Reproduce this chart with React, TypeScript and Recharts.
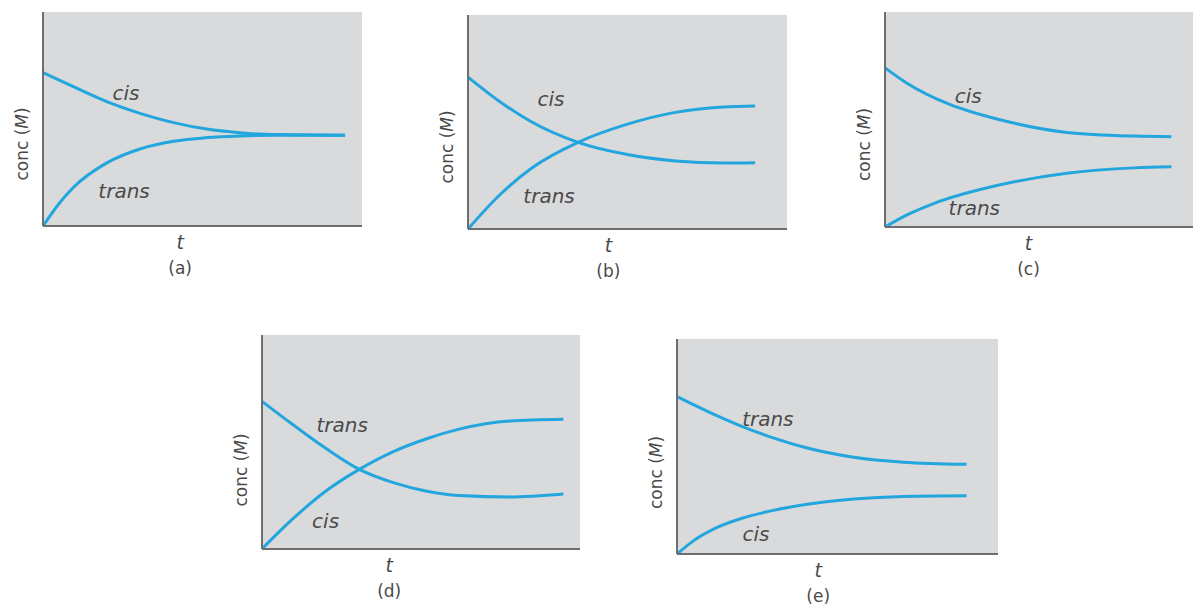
// Cis/trans concentration vs time -- five small panels, recharts.

import { CartesianGrid, Line, LineChart, ReferenceDot, XAxis, YAxis } from "recharts";

type Pt = [number, number];

// (t, conc), both axes on a 0..100 scale
const aCis: Pt[] = [[0, 71.7], [9.5, 65.1], [20, 58.1], [30.4, 52.6], [40.9, 48.3], [51.3, 45.3], [61.7, 43.6], [72.2, 42.7], [94.7, 42.4]];
const aTrans: Pt[] = [[0, 0], [5.3, 11], [9.5, 18], [20, 29.5], [30.4, 36], [40.9, 39.6], [51.3, 41.3], [61.7, 42.1], [72.2, 42.4], [94.7, 42.4]];

const bCis: Pt[] = [[0, 71], [10, 59.5], [20, 50], [34.5, 40.5], [50, 34.8], [65, 31.8], [80, 30.8], [90, 31]];
const bTrans: Pt[] = [[0, 0], [10, 16], [20, 28.5], [34.5, 40.5], [50, 49], [65, 54.5], [80, 57], [90, 57.5]];

const cCis: Pt[] = [[0, 74], [7, 67], [21, 57], [37, 50], [59, 44], [81, 42.3], [93, 42]];
const cTrans: Pt[] = [[0, 0], [7, 5.5], [16, 11], [37, 19.5], [59, 25], [81, 27.5], [93, 28]];

const dTrans: Pt[] = [[0, 69], [10, 57.8], [20.3, 46.8], [30.6, 37.2], [41.3, 31], [51.8, 27], [62, 25], [78, 24.3], [94.8, 25.7]];
const dCis: Pt[] = [[0, 0], [10, 14.5], [20, 27], [30.6, 37.2], [41.3, 45.5], [51.8, 51.5], [62, 56], [78, 59.8], [94.8, 60.6]];

const eTrans: Pt[] = [[0, 73.2], [10, 66], [20, 59.5], [30, 54], [40, 49.5], [55, 45], [70.5, 42.7], [90.2, 41.7]];
const eCis: Pt[] = [[0, 0], [5, 6], [12, 12], [20, 16.5], [30, 20.3], [40, 23], [55, 25.6], [70.5, 26.8], [90.2, 27.1]];

const panelNames = ["(a)", "(b)", "(c)", "(d)", "(e)"];

const BLUE = "#22a6dd";
const AXIS = "#6e6e6e";
const TEXT = "#4a4a4a";
const BG = "#d9dadc";
const FONT = "'DejaVu Sans', sans-serif";

type Panel = {
	name: string;
	left: number;
	top: number;
	w: number;
	h: number;
	tPos: number;
	yLabelShift: number;
	upper: { key: string; pts: Pt[]; at: Pt };
	lower: { key: string; pts: Pt[]; at: Pt };
};

const panels: Panel[] = [
	{ name: panelNames[0], left: 43, top: 12, w: 319, h: 214, tPos: 0.43, yLabelShift: 25,
		upper: { key: "cis", pts: aCis, at: [26, 62] }, lower: { key: "trans", pts: aTrans, at: [25.4, 16.4] } },
	{ name: panelNames[1], left: 468, top: 15, w: 319, h: 214, tPos: 0.44, yLabelShift: 25,
		upper: { key: "cis", pts: bCis, at: [26, 60.7] }, lower: { key: "trans", pts: bTrans, at: [25.4, 15.4] } },
	{ name: panelNames[2], left: 885, top: 12, w: 308, h: 215, tPos: 0.466, yLabelShift: 25,
		upper: { key: "cis", pts: cCis, at: [27, 61] }, lower: { key: "trans", pts: cTrans, at: [29, 8.8] } },
	{ name: panelNames[3], left: 262, top: 335, w: 318, h: 214, tPos: 0.4, yLabelShift: 28,
		upper: { key: "trans", pts: dTrans, at: [25.2, 58] }, lower: { key: "cis", pts: dCis, at: [20, 13] } },
	{ name: panelNames[4], left: 677, top: 339, w: 321, h: 215, tPos: 0.44, yLabelShift: 26,
		upper: { key: "trans", pts: eTrans, at: [28.3, 62.8] }, lower: { key: "cis", pts: eCis, at: [24.6, 9.3] } },
];

const YW = 40;
const XH = 60;
const PAD = 4;

const toRows = (pts: Pt[]) => pts.map(([t, c]) => ({ t, c }));

function curveLabel(text: string) {
	return { value: text, position: "center" as const, fill: TEXT, fontSize: 20, fontStyle: "italic", fontFamily: FONT };
}

function PanelChart({ p }: { p: Panel }) {
	return (
		<div style={{ position: "absolute", left: p.left - YW, top: p.top - PAD }}>
			<LineChart width={YW + p.w} height={PAD + p.h + XH} margin={{ top: PAD, right: 0, bottom: 0, left: 0 }}>
				<CartesianGrid fill={BG} fillOpacity={1} stroke="none" horizontal={false} vertical={false} />
				<XAxis
					type="number"
					dataKey="t"
					domain={[0, 100]}
					height={XH}
					tick={false}
					tickLine={false}
					axisLine={{ stroke: AXIS, strokeWidth: 2 }}
					label={({ viewBox }: any) => (
						<g fill={TEXT} fontFamily={FONT} textAnchor="middle">
							<text x={viewBox.x + viewBox.width * p.tPos} y={viewBox.y + 23} fontSize={19} fontStyle="italic">t</text>
							<text x={viewBox.x + viewBox.width * p.tPos} y={viewBox.y + 48} fontSize={17}>{p.name}</text>
						</g>
					)}
				/>
				<YAxis
					type="number"
					domain={[0, 100]}
					width={YW}
					tick={false}
					tickLine={false}
					axisLine={{ stroke: AXIS, strokeWidth: 2 }}
					label={({ viewBox }: any) => {
						const x = viewBox.x + viewBox.width - 21;
						const y = viewBox.y + viewBox.height / 2 + p.yLabelShift;
						return (
							<text x={x} y={y} transform={`rotate(-90 ${x} ${y})`} fill={TEXT} fontFamily={FONT}
								fontSize={17} textAnchor="middle" dominantBaseline="central">
								conc (<tspan fontStyle="italic">M</tspan>)
							</text>
						);
					}}
				/>
				<Line data={toRows(p.upper.pts)} dataKey="c" type="monotone" stroke={BLUE} strokeWidth={3} dot={false} isAnimationActive={false} />
				<Line data={toRows(p.lower.pts)} dataKey="c" type="monotone" stroke={BLUE} strokeWidth={3} dot={false} isAnimationActive={false} />
				<ReferenceDot x={p.upper.at[0]} y={p.upper.at[1]} r={0} stroke="none" label={curveLabel(p.upper.key)} />
				<ReferenceDot x={p.lower.at[0]} y={p.lower.at[1]} r={0} stroke="none" label={curveLabel(p.lower.key)} />
			</LineChart>
		</div>
	);
}

export default function App() {
	return (
		<div style={{ position: "fixed", left: 0, top: 0, width: 1193, height: 604, background: "#fff", overflow: "hidden" }}>
			{panels.map((p) => (
				<PanelChart key={p.name} p={p} />
			))}
		</div>
	);
}
